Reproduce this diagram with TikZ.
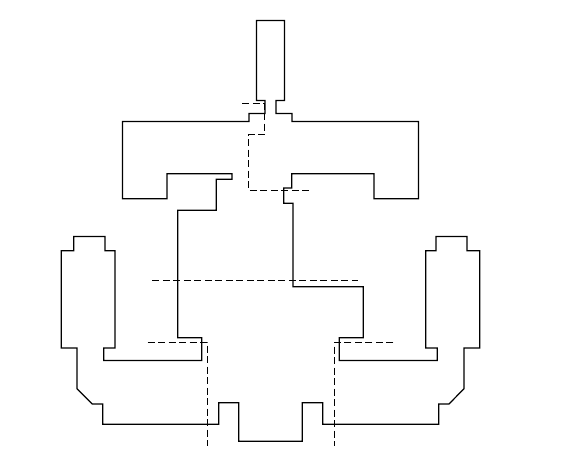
\documentclass[tikz,border=0pt]{standalone}
\tikzset{
  outline/.style={line width=1.2pt,draw=black,line join=miter},
  cutline/.style={line width=1.2pt,draw=black,dash pattern=on 7pt off 3.5pt}
}
\begin{document}
\begin{tikzpicture}[x=1pt,y=-1pt]
\useasboundingbox (0,0) rectangle (566,462);
\fill[white] (0,0) rectangle (566,462);
\draw[outline] (256.5,20.5) -- (284.5,20.5) -- (284.5,100.5) -- (276,100.5) -- (276,113.5) -- (292,113.5) -- (292,121.5)
  -- (418.5,121.5) -- (418.5,198.7) -- (374,198.7) -- (374,173.7) -- (291.7,173.7) -- (291.7,188) -- (283.7,188) -- (283.7,203.3)
  -- (293,203.3) -- (293,286.7) -- (363.3,286.7) -- (363.3,337.7) -- (339.3,337.7) -- (339.3,360.5) -- (437.3,360.5) -- (437.3,348)
  -- (425.7,348) -- (425.7,250.7) -- (436,250.7) -- (436,236.5) -- (467,236.5) -- (467,250.7) -- (479.7,250.7) -- (479.7,348)
  -- (464,348) -- (464,388.7) -- (449,404) -- (438.7,404) -- (438.7,424.3) -- (322.7,424.3) -- (322.7,402.7) -- (302.3,402.7)
  -- (302.3,441.3) -- (238.7,441.3) -- (238.7,402.7) -- (218.7,402.7) -- (218.7,424.3) -- (102.7,424.3) -- (102.7,404) -- (92.3,404)
  -- (77,388.7) -- (77,348) -- (61.3,348) -- (61.3,250.7) -- (73.7,250.7) -- (73.7,236.5) -- (105,236.5) -- (105,250.7)
  -- (115,250.7) -- (115,348) -- (103.7,348) -- (103.7,360.5) -- (201.7,360.5) -- (201.7,337.7) -- (177.7,337.7) -- (177.7,210.3)
  -- (216.3,210.3) -- (216.3,179.3) -- (232,179.3) -- (232,173.7) -- (167,173.7) -- (167,198.7) -- (122.5,198.7) -- (122.5,121.5)
  -- (249,121.5) -- (249,113.5) -- (265,113.5) -- (265,100.5) -- (256.5,100.5) -- cycle;
\draw[cutline] (242.3,103.8) -- (264.5,103.8) -- (264.5,134.8) -- (248.5,134.8) -- (248.5,190.2) -- (308.7,190.2);
\draw[cutline] (152.3,280.2) -- (358,280.2);
\draw[cutline] (147.7,342.2) -- (207.2,342.2) -- (207.2,446);
\draw[cutline] (393.3,342.2) -- (334.7,342.2) -- (334.7,446);
\end{tikzpicture}
\end{document}
